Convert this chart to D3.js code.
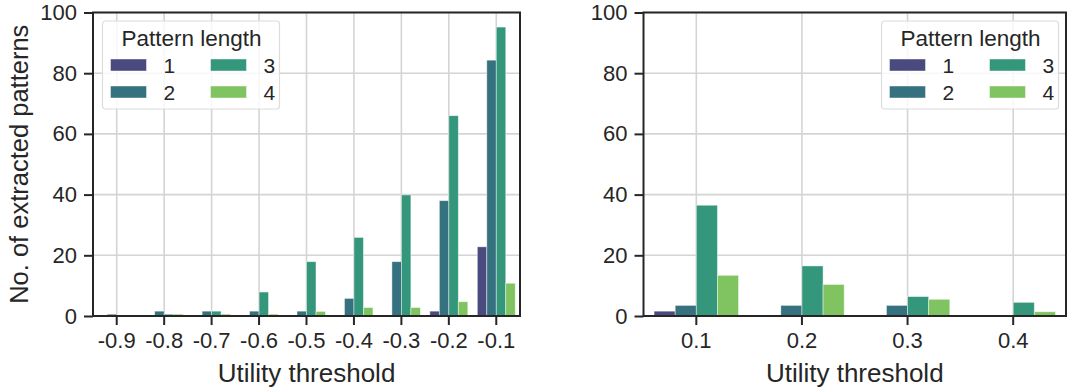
<!DOCTYPE html>
<html>
<head>
<meta charset="utf-8">
<script src="https://cdn.jsdelivr.net/npm/d3@7"></script>
<style>
  body { margin: 0; background: #fff; }
  text { font-family: "Liberation Sans", Arial, sans-serif; fill: #262626; }
</style>
</head>
<body>
<script>
// pattern lengths (hue) and their colours
var lengths = ["1", "2", "3", "4"];
var colours = ["#4b4a7f", "#36717f", "#34977b", "#80c361"];

// left panel: negative thresholds
var leftCats = ["-0.9", "-0.8", "-0.7", "-0.6", "-0.5", "-0.4", "-0.3", "-0.2", "-0.1"];
var leftLen1 = [0, 0, 0, 0, 0, 0, 0, 1.6, 22.8];
var leftLen2 = [0.6, 1.6, 1.6, 1.6, 1.6, 5.8, 17.9, 38, 84.3];
var leftLen3 = [0, 0.6, 1.6, 7.9, 17.9, 25.9, 39.9, 66, 95.2];
var leftLen4 = [0, 0.6, 0.6, 0.6, 1.5, 2.8, 2.8, 4.7, 10.8];

// right panel: positive thresholds
var rightCats = ["0.1", "0.2", "0.3", "0.4"];
var rightLen1 = [1.6, 0, 0, 0];
var rightLen2 = [3.5, 3.5, 3.5, 0];
var rightLen3 = [36.5, 16.5, 6.4, 4.5];
var rightLen4 = [13.4, 10.4, 5.5, 1.4];

var yTicks = [0, 20, 40, 60, 80, 100];

var W = 1067, H = 392;
var svg = d3.select("body").append("svg")
  .attr("width", W)
  .attr("height", H);

//draw one panel
function panel(cats, series, left, right, legendX, showYLabel) {
  var top = 12.5, bottom = 316;

  var x = d3.scaleBand().domain(cats).range([left, right]);
  var hue = d3.scaleBand().domain(lengths)
    .range([x.bandwidth() * 0.1, x.bandwidth() * 0.9]);
  var y = d3.scaleLinear().domain([0, 100]).range([bottom, top]);

  var g = svg.append("g");

  // grid
  g.selectAll(".hgrid").data(yTicks).enter().append("line")
    .attr("x1", left).attr("x2", right)
    .attr("y1", function(d) { return y(d); })
    .attr("y2", function(d) { return y(d); })
    .attr("stroke", "#d4d4d4").attr("stroke-width", 1.6);
  g.selectAll(".vgrid").data(cats).enter().append("line")
    .attr("x1", function(d) { return x(d) + x.bandwidth() / 2; })
    .attr("x2", function(d) { return x(d) + x.bandwidth() / 2; })
    .attr("y1", top).attr("y2", bottom)
    .attr("stroke", "#d4d4d4").attr("stroke-width", 1.6);

  // bars
  var rows = [];
  cats.forEach(function(c, i) {
    lengths.forEach(function(l, j) {
      rows.push({cat: c, len: l, value: series[j][i]});
    });
  });
  g.selectAll(".bar").data(rows).enter().append("rect")
    .attr("x", function(d) { return x(d.cat) + hue(d.len); })
    .attr("width", hue.bandwidth())
    .attr("y", function(d) { return y(d.value); })
    .attr("height", function(d) { return y(0) - y(d.value); })
    .attr("fill", function(d) { return colours[lengths.indexOf(d.len)]; })
    .attr("stroke", "rgba(255,255,255,0.55)")
    .attr("stroke-width", 0.8);

  // axes
  var xa = g.append("g")
    .attr("transform", "translate(0," + bottom + ")")
    .call(d3.axisBottom(x).tickSize(9).tickPadding(7));
  var ya = g.append("g")
    .attr("transform", "translate(" + left + ",0)")
    .call(d3.axisLeft(y).tickValues(yTicks).tickSize(9).tickPadding(7));
  [xa, ya].forEach(function(a) {
    a.select(".domain").remove();
    a.selectAll(".tick line").attr("stroke", "#262626").attr("stroke-width", 2);
    a.selectAll(".tick text")
      .style("font-family", "'Liberation Sans', Arial, sans-serif")
      .style("font-size", "22px").attr("fill", "#262626");
  });

  // frame
  g.append("rect")
    .attr("x", left).attr("y", top)
    .attr("width", right - left).attr("height", bottom - top)
    .attr("fill", "none").attr("stroke", "#262626").attr("stroke-width", 2);

  // axis labels
  g.append("text")
    .attr("x", (left + right) / 2).attr("y", 382)
    .attr("text-anchor", "middle")
    .style("font-size", "26px")
    .text("Utility threshold");
  if (showYLabel) {
    g.append("text")
      .attr("transform", "translate(28," + (top + bottom) / 2 + ") rotate(-90)")
      .attr("text-anchor", "middle")
      .style("font-size", "25.5px")
      .text("No. of extracted patterns");
  }

  // legend
  var lg = g.append("g").attr("transform", "translate(" + legendX + "," + (top + 8.5) + ")");
  lg.append("rect")
    .attr("width", 177).attr("height", 88).attr("rx", 3)
    .attr("fill", "rgba(255,255,255,0.8)")
    .attr("stroke", "#dcdcdc").attr("stroke-width", 1.2);
  lg.append("text")
    .attr("x", 89).attr("y", 25)
    .attr("text-anchor", "middle")
    .style("font-size", "22.5px")
    .text("Pattern length");
  var item = lg.selectAll(".item").data(lengths).enter().append("g")
    .attr("transform", function(d, i) {
      return "translate(" + (8 + Math.floor(i / 2) * 100) + "," + (38 + (i % 2) * 27) + ")";
    });
  item.append("rect")
    .attr("width", 36).attr("height", 12)
    .attr("fill", function(d, i) { return colours[i]; })
    .attr("stroke", "rgba(255,255,255,0.55)").attr("stroke-width", 0.8);
  item.append("text")
    .attr("x", 53).attr("y", 14)
    .style("font-size", "21px")
    .text(function(d) { return d; });
}

panel(leftCats, [leftLen1, leftLen2, leftLen3, leftLen4], 93, 520, 102.5, true);
panel(rightCats, [rightLen1, rightLen2, rightLen3, rightLen4], 643.5, 1066, 881.5, false);
</script>
</body>
</html>
